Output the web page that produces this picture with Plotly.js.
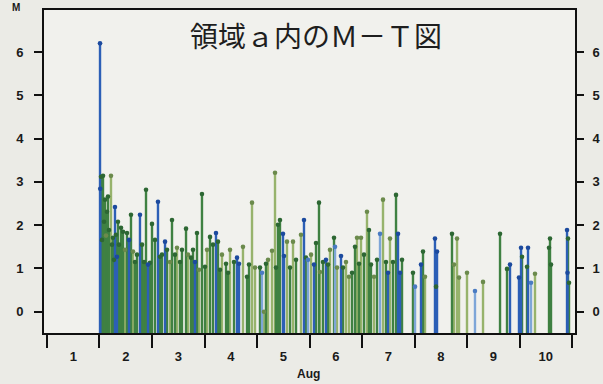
<!DOCTYPE html>
<html>
<head>
<meta charset="utf-8">
<script src="https://cdn.plot.ly/plotly-3.0.1.min.js"></script>
<style>
  html, body { margin: 0; padding: 0; background: #ebebe6; }
  #chart { width: 603px; height: 384px; }
</style>
</head>
<body>
<div id="chart"></div>
<script>
// Event origin times (days after Aug 1, 00:00) and magnitudes
const days = [
  1.010, 1.029, 1.014, 1.048, 1.067, 1.086, 1.105, 1.124, 1.143, 1.162,
  1.181, 1.219, 1.238, 1.257, 1.276, 1.295, 1.314, 1.333, 1.352, 1.371,
  1.410, 1.448, 1.486, 1.524, 1.562, 1.600, 1.638, 1.676, 1.714, 1.771,
  1.810, 1.848, 1.886, 1.924, 1.962, 2.000, 2.057, 2.114, 2.152, 2.190,
  2.248, 2.286, 2.343, 2.381, 2.438, 2.476, 2.533, 2.571, 2.648, 2.686,
  2.743, 2.781, 2.819, 2.857, 2.895, 2.952, 3.010, 3.048, 3.105, 3.162,
  3.219, 3.257, 3.295, 3.333, 3.410, 3.448, 3.486, 3.562, 3.619, 3.657,
  3.733, 3.810, 3.848, 3.905, 3.962, 4.057, 4.095, 4.133, 4.171, 4.210,
  4.286, 4.343, 4.362, 4.400, 4.438, 4.495, 4.514, 4.571, 4.629, 4.686,
  4.743, 4.838, 4.895, 4.933, 4.971, 5.029, 5.086, 5.124, 5.181, 5.200,
  5.257, 5.314, 5.352, 5.390, 5.467, 5.486, 5.524, 5.600, 5.638, 5.695,
  5.752, 5.810, 5.867, 5.905, 5.943, 5.981, 6.038, 6.095, 6.133, 6.171,
  6.229, 6.286, 6.343, 6.400, 6.457, 6.495, 6.533, 6.590, 6.648, 6.686,
  6.724, 6.762, 6.971, 7.010, 7.124, 7.162, 7.200, 7.390, 7.410, 7.429,
  7.714, 7.752, 7.810, 7.848, 8.000, 8.152, 8.305, 8.629, 8.762, 8.819,
  8.990, 9.029, 9.048, 9.143, 9.162, 9.219, 9.295, 9.562, 9.581, 9.600,
  9.905, 9.924, 9.914, 9.943
];
const mags = [
  6.2, 3.12, 2.84, 1.66, 3.14, 2.08, 2.59, 1.76, 2.31, 2.66,
  1.89, 3.14, 1.55, 1.71, 1.20, 2.42, 1.78, 1.27, 2.08, 1.55,
  1.94, 1.85, 1.43, 1.82, 1.66, 2.24, 1.39, 1.15, 1.32, 2.24,
  1.55, 1.15, 2.82, 1.09, 1.13, 2.03, 1.66, 2.54, 1.27, 1.32,
  1.62, 1.43, 1.15, 2.12, 1.32, 1.48, 1.15, 1.43, 1.92, 1.32,
  1.25, 1.43, 1.15, 1.82, 0.97, 2.72, 1.04, 1.43, 1.73, 1.55,
  1.82, 1.62, 0.97, 1.32, 1.11, 0.90, 1.43, 1.15, 1.25, 1.11,
  1.50, 0.81, 1.09, 2.52, 1.02, 1.02, 0.90, 0.0, 1.11, 1.20,
  1.41, 3.21, 1.02, 2.01, 2.12, 1.80, 1.29, 1.62, 1.02, 1.62,
  1.20, 1.78, 2.12, 1.25, 1.20, 1.32, 1.09, 1.59, 2.52, 0.92,
  1.15, 1.20, 1.09, 1.43, 1.71, 1.50, 1.02, 1.29, 1.02, 1.15,
  0.81, 0.90, 1.50, 1.71, 1.11, 1.71, 1.32, 2.31, 1.89, 1.09,
  0.81, 1.20, 1.80, 2.59, 1.15, 0.90, 1.69, 1.15, 2.70, 1.80,
  0.90, 1.20, 0.90, 0.58, 1.09, 1.39, 0.81, 1.69, 0.58, 1.39,
  1.80, 1.09, 1.69, 0.79, 0.90, 0.48, 0.69, 1.80, 0.99, 1.09,
  0.79, 1.48, 1.27, 1.04, 1.48, 0.67, 0.88, 1.48, 1.69, 1.09,
  1.89, 1.69, 0.90, 0.67
];
// Depth class of each event: 0 dark green, 1 light green, 2 blue, 3 light blue
const kinds = [
  2, 0, 2, 0, 0, 0, 0, 1, 0, 0,
  0, 1, 0, 0, 0, 2, 0, 2, 0, 0,
  0, 0, 1, 0, 2, 0, 1, 0, 0, 2,
  0, 0, 0, 2, 0, 0, 0, 2, 0, 0,
  2, 0, 1, 0, 0, 1, 0, 0, 0, 1,
  0, 0, 2, 0, 1, 0, 0, 1, 0, 0,
  2, 0, 0, 1, 0, 0, 1, 0, 2, 2,
  1, 0, 0, 1, 1, 0, 3, 1, 0, 1,
  1, 1, 0, 0, 0, 2, 2, 1, 0, 1,
  0, 1, 2, 0, 3, 1, 2, 0, 0, 1,
  0, 2, 0, 1, 0, 3, 1, 2, 0, 1,
  1, 0, 0, 1, 0, 1, 0, 1, 0, 0,
  1, 0, 3, 1, 0, 2, 1, 0, 0, 2,
  2, 0, 0, 3, 2, 0, 1, 2, 0, 2,
  0, 1, 1, 1, 1, 3, 1, 0, 0, 2,
  2, 2, 0, 0, 2, 3, 1, 0, 0, 0,
  2, 0, 2, 0
];
const dayTicks = [0, 1, 2, 3, 4, 5, 6, 7, 8, 9, 10];
const dayLabelPos = [0.5, 1.5, 2.5, 3.5, 4.5, 5.5, 6.5, 7.5, 8.5, 9.5];
const dayLabels = ['1', '2', '3', '4', '5', '6', '7', '8', '9', '10'];
const magTicks = [0, 1, 2, 3, 4, 5, 6];

const stemColors = ['#3f8142', '#97b36c', '#2c5fb6', '#7ea6d8'];
const dotColors = ['#2d6733', '#6b8a4c', '#1c4a9e', '#4a7bc2'];
const drawOrder = [1, 0, 3, 2];   // greens underneath, blues on top
const stemBase = -1;   // below the visible range, so stems run into the bottom frame

const stemTraces = [], dotTraces = [];
drawOrder.forEach((k) => {
  const sx = [], sy = [], mx = [], my = [];
  days.forEach((d, i) => {
    if (kinds[i] !== k) return;
    sx.push(d, d, null);
    sy.push(stemBase, mags[i], null);
    mx.push(d);
    my.push(mags[i]);
  });
  stemTraces.push({
    x: sx, y: sy, type: 'scatter', mode: 'lines',
    line: { color: stemColors[k], width: 2.4 }, hoverinfo: 'skip', showlegend: false
  });
  dotTraces.push({
    x: mx, y: my, type: 'scatter', mode: 'markers', cliponaxis: false,
    marker: { color: dotColors[k], size: 4.6 }, showlegend: false
  });
});
const traces = stemTraces.concat(dotTraces);
// companion axes: day numbers centred in each day, magnitude scale on the right
traces.push({
  x: [5], y: [0], xaxis: 'x2', yaxis: 'y2', type: 'scatter', mode: 'markers',
  marker: { opacity: 0 }, hoverinfo: 'skip', showlegend: false
});

const xRange = [-0.057, 10.057];
const yRange = [-0.49, 6.97];
const tickFont = { family: 'Liberation Sans, Arial, sans-serif', size: 13, color: '#1a1a1a', weight: 'bold' };

const layout = {
  width: 603, height: 384,
  margin: { l: 44, r: 28, t: 10, b: 51 },
  paper_bgcolor: '#ebebe6',
  plot_bgcolor: '#f1f1ed',
  xaxis: {
    range: xRange, tickmode: 'array', tickvals: dayTicks, ticktext: dayTicks.map(() => ''),
    ticks: 'outside', ticklen: 13, tickwidth: 2, tickcolor: '#111',
    showline: true, linewidth: 2, linecolor: '#111', mirror: true,
    showgrid: false, zeroline: false, fixedrange: true
  },
  xaxis2: {
    overlaying: 'x', anchor: 'y2', side: 'bottom', range: xRange,
    tickmode: 'array', tickvals: dayLabelPos, ticktext: dayLabels,
    ticks: '', ticklabelstandoff: 14, tickfont: tickFont,
    showline: false, showgrid: false, zeroline: false
  },
  yaxis: {
    range: yRange, tickmode: 'array', tickvals: magTicks,
    ticks: 'outside', ticklen: 8, tickwidth: 2, tickcolor: '#111',
    ticklabelstandoff: 8, tickfont: tickFont,
    showline: true, linewidth: 2, linecolor: '#111', mirror: true,
    showgrid: false, zeroline: false
  },
  yaxis2: {
    overlaying: 'y', anchor: 'x2', side: 'right', range: yRange,
    tickmode: 'array', tickvals: magTicks,
    ticks: 'outside', ticklen: 8, tickwidth: 2, tickcolor: '#111',
    ticklabelstandoff: 6, tickfont: tickFont,
    showline: false, showgrid: false, zeroline: false
  },
  annotations: [
    {
      text: '領域ａ内のＭ－Ｔ図', xref: 'paper', yref: 'paper', x: 0.513, y: 0.922,
      xanchor: 'center', yanchor: 'middle', showarrow: false,
      font: { family: 'Noto Sans CJK JP', size: 28, color: '#1e1e1e' }
    },
    {
      text: 'M', xref: 'paper', yref: 'paper', x: -0.0527, y: 1.0077,
      xanchor: 'center', yanchor: 'middle', showarrow: false,
      font: { family: 'Liberation Sans, Arial, sans-serif', size: 10, color: '#1a1a1a', weight: 'bold' }
    },
    {
      text: 'Aug', xref: 'paper', yref: 'paper', x: 0.499, y: -0.127,
      xanchor: 'center', yanchor: 'middle', showarrow: false,
      font: { family: 'Liberation Sans, Arial, sans-serif', size: 12, color: '#1a1a1a', weight: 'bold' }
    }
  ]
};

Plotly.newPlot('chart', traces, layout, { staticPlot: true, displayModeBar: false });
</script>
</body>
</html>
